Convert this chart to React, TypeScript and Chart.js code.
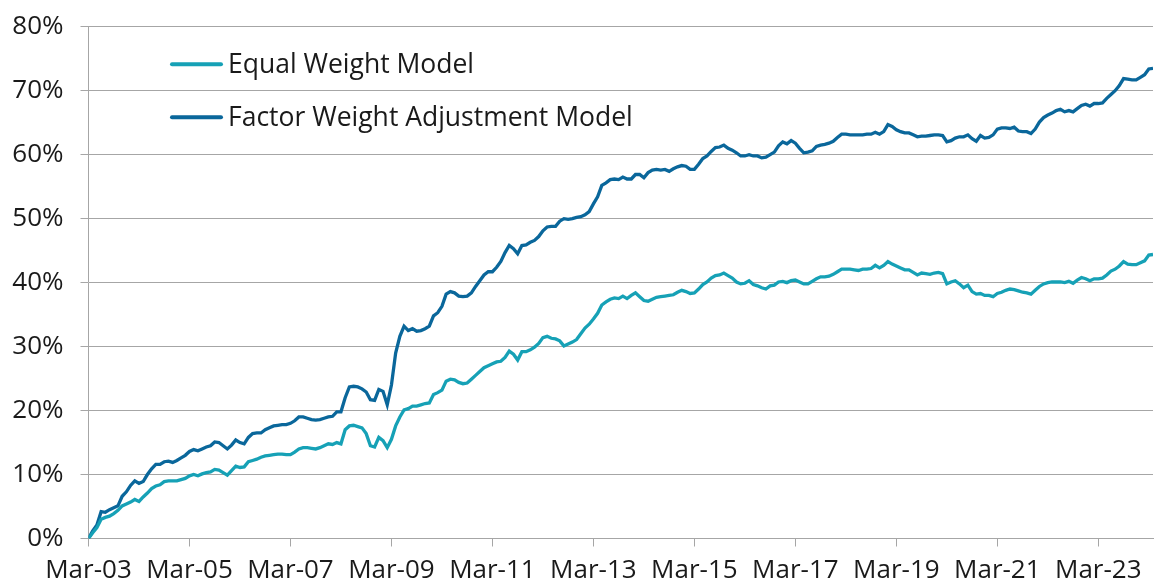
import { useEffect, useRef } from "react";
import { Chart, registerables } from "chart.js";

Chart.register(...registerables);

// Monthly observations starting Mar-03
const startYear = 2003;
const startMonthIndex = 2; // March
const monthNames = ["Jan", "Feb", "Mar", "Apr", "May", "Jun", "Jul", "Aug", "Sep", "Oct", "Nov", "Dec"];

const seriesLabels = ["Equal Weight Model", "Factor Weight Adjustment Model"];

const equalWeight = [
  0, 0.9, 1.7, 3.0, 3.3, 3.5, 3.9, 4.4, 5.1, 5.4,
  5.7, 6.1, 5.8, 6.5, 7.1, 7.8, 8.2, 8.4, 8.9, 9.0,
  9.0, 9.0, 9.2, 9.4, 9.8, 10.0, 9.8, 10.1, 10.3, 10.4,
  10.8, 10.7, 10.3, 9.9, 10.6, 11.3, 11.1, 11.2, 12.0, 12.2,
  12.4, 12.7, 12.9, 13.0, 13.1, 13.2, 13.2, 13.1, 13.1, 13.5,
  14.0, 14.2, 14.2, 14.1, 14.0, 14.2, 14.5, 14.8, 14.7, 15.0,
  14.8, 17.0, 17.6, 17.7, 17.5, 17.3, 16.4, 14.5, 14.3, 15.8,
  15.3, 14.2, 15.5, 17.6, 19.0, 20.1, 20.3, 20.7, 20.7, 20.9,
  21.1, 21.2, 22.5, 22.8, 23.2, 24.6, 24.9, 24.8, 24.4, 24.2,
  24.3, 24.9, 25.5, 26.1, 26.7, 27.0, 27.3, 27.6, 27.7, 28.3,
  29.3, 28.8, 27.9, 29.2, 29.2, 29.5, 29.9, 30.5, 31.4, 31.6,
  31.3, 31.2, 30.9, 30.1, 30.4, 30.7, 31.1, 32.0, 32.9, 33.5,
  34.3, 35.2, 36.5, 37.0, 37.4, 37.6, 37.5, 37.9, 37.5, 38.0,
  38.4, 37.8, 37.2, 37.1, 37.4, 37.7, 37.8, 37.9, 38.0, 38.1,
  38.5, 38.8, 38.6, 38.3, 38.4, 39.0, 39.7, 40.1, 40.7, 41.1,
  41.2, 41.5, 41.1, 40.7, 40.1, 39.8, 39.9, 40.3, 39.7, 39.5,
  39.2, 39.0, 39.5, 39.6, 40.1, 40.2, 40.0, 40.3, 40.4, 40.1,
  39.8, 39.8, 40.2, 40.6, 40.9, 40.9, 41.0, 41.3, 41.7, 42.1,
  42.1, 42.1, 42.0, 41.9, 42.1, 42.1, 42.2, 42.7, 42.3, 42.7,
  43.3, 42.9, 42.6, 42.3, 42.0, 42.0, 41.6, 41.2, 41.5, 41.4,
  41.3, 41.5, 41.6, 41.4, 39.8, 40.1, 40.3, 39.8, 39.2, 39.6,
  38.6, 38.2, 38.3, 38.0, 38.0, 37.8, 38.3, 38.5, 38.8, 39.0,
  38.9, 38.7, 38.5, 38.4, 38.2, 38.8, 39.4, 39.8, 40.0, 40.1,
  40.1, 40.1, 40.0, 40.2, 39.9, 40.4, 40.8, 40.6, 40.3, 40.6,
  40.6, 40.7, 41.2, 41.8, 42.1, 42.6, 43.3, 42.9, 42.8, 42.8,
  43.1, 43.4, 44.3, 44.4,
];

const factorWeight = [
  0, 1.2, 2.1, 4.2, 4.1, 4.5, 4.8, 5.1, 6.6, 7.3,
  8.3, 9.0, 8.6, 8.9, 10.0, 10.9, 11.6, 11.6, 12.0, 12.1,
  11.9, 12.2, 12.6, 13.0, 13.6, 13.9, 13.7, 14.0, 14.3, 14.5,
  15.1, 15.0, 14.5, 14.0, 14.6, 15.4, 15.0, 14.8, 15.8, 16.4,
  16.5, 16.5, 17.0, 17.3, 17.6, 17.7, 17.8, 17.8, 18.0, 18.4,
  19.0, 19.0, 18.8, 18.6, 18.5, 18.6, 18.8, 19.0, 19.1, 19.8,
  19.8, 22.0, 23.7, 23.8, 23.7, 23.4, 22.9, 21.7, 21.6, 23.3,
  23.0, 20.9, 24.0, 29.0, 31.6, 33.2, 32.5, 32.8, 32.4, 32.5,
  32.8, 33.2, 34.8, 35.3, 36.3, 38.2, 38.6, 38.4, 37.9, 37.8,
  37.9, 38.4, 39.4, 40.3, 41.2, 41.7, 41.7, 42.4, 43.3, 44.7,
  45.8, 45.3, 44.5, 45.8, 45.9, 46.3, 46.6, 47.2, 48.1, 48.7,
  48.8, 48.8, 49.6, 50.0, 49.9, 50.0, 50.2, 50.3, 50.6, 51.1,
  52.3, 53.4, 55.2, 55.6, 56.1, 56.2, 56.1, 56.5, 56.2, 56.2,
  56.9, 56.9, 56.4, 57.2, 57.6, 57.7, 57.6, 57.7, 57.4, 57.8,
  58.1, 58.3, 58.2, 57.7, 57.7, 58.5, 59.4, 59.8, 60.5, 61.1,
  61.2, 61.5, 61.0, 60.7, 60.3, 59.8, 59.8, 60.0, 59.8, 59.8,
  59.5, 59.6, 60.0, 60.4, 61.4, 62.0, 61.7, 62.2, 61.8, 61.0,
  60.3, 60.4, 60.6, 61.3, 61.5, 61.6, 61.8, 62.1, 62.7, 63.2,
  63.2, 63.1, 63.1, 63.1, 63.1, 63.2, 63.2, 63.5, 63.2, 63.6,
  64.7, 64.4, 63.9, 63.6, 63.4, 63.4, 63.1, 62.8, 62.9, 62.9,
  63.0, 63.1, 63.1, 63.0, 62.0, 62.2, 62.6, 62.8, 62.8, 63.1,
  62.5, 62.1, 63.0, 62.6, 62.7, 63.1, 64.0, 64.2, 64.2, 64.1,
  64.3, 63.7, 63.6, 63.6, 63.3, 64.0, 65.1, 65.8, 66.2, 66.5,
  66.9, 67.1, 66.7, 66.9, 66.7, 67.2, 67.7, 67.9, 67.6, 68.0,
  68.0, 68.1, 68.8, 69.4, 70.0, 70.8, 71.9, 71.8, 71.7, 71.7,
  72.1, 72.5, 73.4, 73.5,
];

const xTickLabels = [
  "Mar-03", "Mar-05", "Mar-07", "Mar-09", "Mar-11", "Mar-13",
  "Mar-15", "Mar-17", "Mar-19", "Mar-21", "Mar-23",
];

const yTickValues = [0, 10, 20, 30, 40, 50, 60, 70, 80];

// category list: one label per monthly observation
const months = factorWeight.map((_, i) => {
  const m = startMonthIndex + i;
  const y = startYear + Math.floor(m / 12);
  return `${monthNames[m % 12]}-${String(y % 100).padStart(2, "0")}`;
});

const COLOR_EQUAL = "#16A1B6";
const COLOR_FACTOR = "#0A679B";
const GRID = "#A6A6A6";
const TEXT = "#1A1A1A";
const FONT = "'Open Sans', sans-serif";

const insideLegend = {
  id: "insideLegend",
  afterDraw(chart: any) {
    const { ctx, chartArea } = chart;
    ctx.save();
    chart.data.datasets.forEach((ds: any, i: number) => {
      const baseline = chartArea.top + 46.3 + i * 53.3;
      const lineY = chartArea.top + 37.6 + i * 53.0;
      ctx.strokeStyle = ds.borderColor;
      ctx.lineWidth = 4;
      ctx.lineCap = "round";
      ctx.beginPath();
      ctx.moveTo(chartArea.left + 83.5, lineY);
      ctx.lineTo(chartArea.left + 132.5, lineY);
      ctx.stroke();
      ctx.fillStyle = TEXT;
      ctx.font = `26.5px ${FONT}`;
      ctx.textBaseline = "alphabetic";
      ctx.textAlign = "left";
      ctx.fillText(ds.label, chartArea.left + 139.5, baseline);
    });
    ctx.restore();
  },
};

export default function App() {
  const ref = useRef<HTMLCanvasElement | null>(null);

  useEffect(() => {
    document.body.style.margin = "0";
    if (!ref.current) return;
    const toPoints = (arr: number[]) => arr.map((v, i) => ({ x: i, y: v }));
    const chart = new Chart(ref.current, {
      type: "line",
      data: {
        labels: months,
        datasets: [
          {
            label: seriesLabels[0],
            data: toPoints(equalWeight),
            borderColor: COLOR_EQUAL,
            backgroundColor: COLOR_EQUAL,
            borderWidth: 3.3,
            pointRadius: 0,
            tension: 0,
            fill: false,
          },
          {
            label: seriesLabels[1],
            data: toPoints(factorWeight),
            borderColor: COLOR_FACTOR,
            backgroundColor: COLOR_FACTOR,
            borderWidth: 3.3,
            pointRadius: 0,
            tension: 0,
            fill: false,
          },
        ],
      },
      options: {
        animation: false,
        responsive: false,
        devicePixelRatio: 1,
        layout: { padding: { top: 23.7, right: 1, left: 0, bottom: 0 } },
        plugins: {
          legend: { display: false },
          tooltip: { enabled: false },
        },
        scales: {
          x: {
            type: "linear",
            min: 0,
            max: months.length - 1,
            afterFit: (scale: any) => {
              scale.height = 44.5;
            },
            ticks: {
              stepSize: 24,
              includeBounds: false,
              autoSkip: false,
              maxRotation: 0,
              minRotation: 0,
              padding: 8,
              color: TEXT,
              font: { family: FONT, size: 26 },
              callback: (value: any) => {
                const k = Number(value) / 24;
                return Number.isInteger(k) && xTickLabels[k] ? xTickLabels[k] : null;
              },
            },
            grid: {
              drawOnChartArea: false,
              drawTicks: true,
              tickLength: 8,
              color: GRID,
              lineWidth: 1,
            },
            border: { display: true, color: GRID, width: 1 },
          },
          y: {
            min: yTickValues[0],
            max: yTickValues[yTickValues.length - 1],
            afterFit: (scale: any) => {
              scale.width = 88.5;
            },
            afterBuildTicks: (scale: any) => {
              scale.ticks = yTickValues.map((v) => ({ value: v }));
            },
            ticks: {
              padding: 17,
              color: TEXT,
              font: { family: FONT, size: 26, lineHeight: 0.75 },
              callback: (value: any) => `${value}%`,
            },
            grid: {
              color: GRID,
              lineWidth: 1,
              drawTicks: true,
              tickLength: 8,
            },
            border: { display: true, color: GRID, width: 1 },
          },
        },
      },
      plugins: [insideLegend],
    });
    return () => chart.destroy();
  }, []);

  return (
    <canvas
      ref={ref}
      width={1154}
      height={583}
      style={{ display: "block", width: 1154, height: 583 }}
    />
  );
}
